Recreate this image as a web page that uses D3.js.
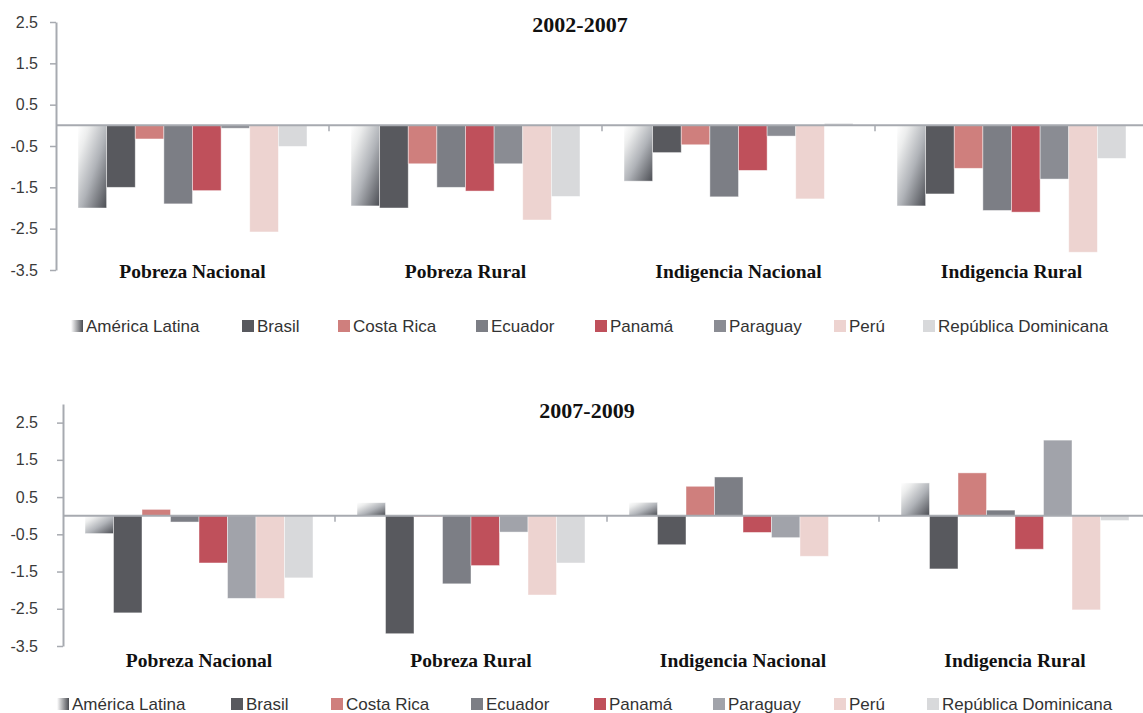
<!DOCTYPE html>
<html>
<head>
<meta charset="utf-8">
<script src="https://cdn.jsdelivr.net/npm/d3@7"></script>
<style>
  html, body { margin: 0; padding: 0; background: #fff; }
  svg { display: block; }
</style>
</head>
<body>
<svg id="chart" width="1143" height="713"></svg>
<script>
// ---------- DATA ----------
const categories = ["Pobreza Nacional", "Pobreza Rural", "Indigencia Nacional", "Indigencia Rural"];
const series = ["América Latina", "Brasil", "Costa Rica", "Ecuador", "Panamá", "Paraguay", "Perú", "República Dominicana"];
const yTickValues = [2.5, 1.5, 0.5, -0.5, -1.5, -2.5, -3.5];
const periodTitles = ["2002-2007", "2007-2009"];

// rows = series (same order as `series`), columns = categories
const values2002_2007 = [
  [-2.00, -1.95, -1.35, -1.95],
  [-1.50, -2.00, -0.66, -1.66],
  [-0.33, -0.93, -0.47, -1.04],
  [-1.90, -1.50, -1.73, -2.06],
  [-1.58, -1.59, -1.09, -2.10],
  [-0.07, -0.93, -0.26, -1.30],
  [-2.58, -2.29, -1.78, -3.07],
  [-0.51, -1.72,  0.05, -0.80]
];
const values2007_2009 = [
  [-0.48,  0.35,  0.36,  0.88],
  [-2.61, -3.17, -0.78, -1.43],
  [ 0.17, -0.03,  0.79,  1.15],
  [-0.17, -1.83,  1.04,  0.15],
  [-1.27, -1.34, -0.45, -0.90],
  [-2.22, -0.44, -0.59,  2.03],
  [-2.22, -2.13, -1.09, -2.53],
  [-1.67, -1.27,  0.00, -0.13]
];

// ---------- STYLE ----------
const colorsTop = ["url(#gradAL)", "#58595e", "#cf7f7d", "#7c7e85", "#bf505b", "#8a8c93", "#edd3d0", "#d8d9db"];
const colorsBottom = ["url(#gradAL)", "#58595e", "#cf7f7d", "#7c7e85", "#bf505b", "#a1a3aa", "#edd3d0", "#d8d9db"];
const axisColor = "#a7aab0";

const svg = d3.select("#chart");
const defs = svg.append("defs");
const g1 = defs.append("linearGradient").attr("id", "gradAL")
  .attr("x1", 0).attr("y1", 0).attr("x2", 1).attr("y2", 1);
g1.append("stop").attr("offset", "0%").attr("stop-color", "#ffffff");
g1.append("stop").attr("offset", "20%").attr("stop-color", "#eceded");
g1.append("stop").attr("offset", "55%").attr("stop-color", "#b0b3b8");
g1.append("stop").attr("offset", "100%").attr("stop-color", "#4b4d53");
const g2 = defs.append("linearGradient").attr("id", "gradALleg")
  .attr("x1", 0).attr("y1", 0).attr("x2", 1).attr("y2", 0);
g2.append("stop").attr("offset", "0%").attr("stop-color", "#ffffff");
g2.append("stop").attr("offset", "100%").attr("stop-color", "#4b4d53");

function drawChart(cfg) {
  const { values, colors, axisX, bandW, yDomain, yRange, title, titleX, titleY, labelY,
          legendY, legendTextX } = cfg;
  const root = svg.append("g");

  const y = d3.scaleLinear().domain(yDomain).range(yRange);
  const x0 = d3.scaleBand().domain(categories)
    .range([axisX, axisX + bandW * categories.length]).padding(0);
  const x1 = d3.scaleBand().domain(series).range([22, bandW - 22]).padding(0);

  // bars
  const groups = root.selectAll("g.grp").data(categories).join("g")
    .attr("transform", c => `translate(${x0(c)},0)`);
  groups.each(function (c, ci) {
    d3.select(this).selectAll("rect").data(series).join("rect")
      .attr("x", s => x1(s))
      .attr("width", x1.bandwidth())
      .attr("y", (s, si) => y(Math.max(0, values[si][ci])))
      .attr("height", (s, si) => Math.abs(y(values[si][ci]) - y(0)))
      .attr("fill", (s, si) => si === 0 ? "url(#gradAL)" : colors[si])
      .attr("stroke", "rgba(255,255,255,0.55)")
      .attr("stroke-width", 0.8);
  });

  // zero baseline
  root.append("line")
    .attr("x1", axisX).attr("x2", 1143)
    .attr("y1", y(0)).attr("y2", y(0))
    .attr("stroke", axisColor).attr("stroke-width", 2);

  // separators between groups
  root.selectAll("line.sep").data(categories.slice(1)).join("line")
    .attr("class", "sep")
    .attr("x1", c => x0(c)).attr("x2", c => x0(c))
    .attr("y1", y(0)).attr("y2", y(0) + 6)
    .attr("stroke", axisColor).attr("stroke-width", 1.5);

  // y axis
  const ax = root.append("g")
    .attr("transform", `translate(${axisX},0)`)
    .call(d3.axisLeft(y).tickValues(yTickValues).tickFormat(d => d.toFixed(1))
      .tickSizeInner(6).tickSizeOuter(0).tickPadding(cfg.tickPad));
  ax.select(".domain").attr("stroke", axisColor).attr("stroke-width", 2);
  ax.selectAll(".tick line").attr("stroke", axisColor).attr("stroke-width", 1.5);
  ax.selectAll(".tick text")
    .attr("fill", "#3a3a3a")
    .style("font-family", "'Liberation Sans', Arial, sans-serif")
    .style("font-size", "16px");

  // category labels
  root.selectAll("text.cat").data(categories).join("text")
    .attr("class", "cat")
    .attr("x", c => x0(c) + bandW / 2)
    .attr("y", labelY)
    .attr("text-anchor", "middle")
    .style("font-family", "'Liberation Serif', 'Times New Roman', serif")
    .style("font-weight", "bold")
    .style("font-size", "19.5px")
    .attr("fill", "#111")
    .text(c => c);

  // title
  root.append("text")
    .attr("x", titleX).attr("y", titleY)
    .attr("text-anchor", "middle")
    .style("font-family", "'Liberation Serif', 'Times New Roman', serif")
    .style("font-weight", "bold")
    .style("font-size", "22px")
    .attr("fill", "#111")
    .text(title);

  // legend
  const leg = root.selectAll("g.leg").data(series).join("g")
    .attr("transform", (s, i) => `translate(${legendTextX[i]},${legendY})`);
  leg.append("rect")
    .attr("x", -15).attr("y", -12).attr("width", 12).attr("height", 12)
    .attr("fill", (s, i) => i === 0 ? "url(#gradALleg)" : colors[i]);
  leg.append("text")
    .attr("x", 0).attr("y", 0)
    .style("font-family", "'Liberation Sans', Arial, sans-serif")
    .style("font-size", "17px")
    .attr("fill", "#333")
    .text(s => s);
}

drawChart({
  values: values2002_2007, colors: colorsTop,
  axisX: 56, bandW: 273, yDomain: [-3.5, 2.5], yRange: [270, 22],
  tickPad: 12,
  title: periodTitles[0], titleX: 580, titleY: 32, labelY: 278,
  legendY: 332, legendTextX: [86, 257, 353, 491, 610, 729, 849, 938]
});

drawChart({
  values: values2007_2009, colors: colorsBottom,
  axisX: 63, bandW: 272, yDomain: [-3.5, 3.0], yRange: [646, 404],
  tickPad: 19,
  title: periodTitles[1], titleX: 587, titleY: 418, labelY: 667,
  legendY: 710, legendTextX: [72, 246, 346, 486, 609, 728, 849, 942]
});
</script>
</body>
</html>
